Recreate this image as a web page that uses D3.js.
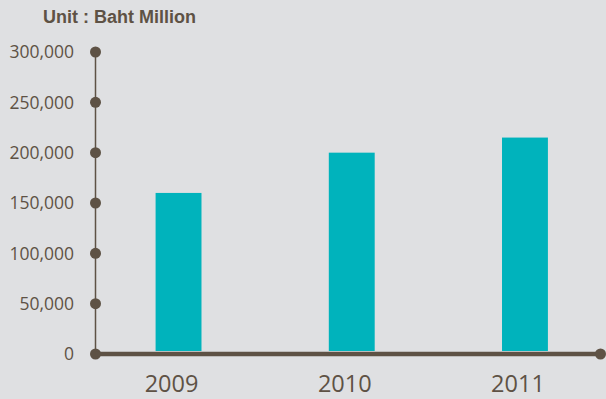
<!DOCTYPE html>
<html>
<head>
<meta charset="utf-8">
<script src="https://cdn.jsdelivr.net/npm/d3@7"></script>
<style>
  html, body { margin: 0; padding: 0; background: #dfe0e2; }
  svg { display: block; }
</style>
</head>
<body>
<div id="chart"></div>
<script>
// data
var years = ["2009", "2010", "2011"];
var revenue = [160000, 200000, 215000];
var yTicks = [0, 50000, 100000, 150000, 200000, 250000, 300000];

var W = 606, H = 399;
var axisColor = "#5e5245";
var barColor = "#00b3bc";

var svg = d3.select("#chart").append("svg")
    .attr("width", W)
    .attr("height", H);

svg.append("rect").attr("width", W).attr("height", H).attr("fill", "#dfe0e2");

var y = d3.scaleLinear()
  .domain([0, 300000])
  .range([354, 52]);

var x = d3.scaleBand()
  .domain(years)
  .range([91.5, 612])
  .paddingInner(0.735)
  .paddingOuter(0.37);

// title
svg.append("text")
  .attr("x", 43).attr("y", 23)
  .attr("fill", axisColor)
  .style("font-family", "'Liberation Sans', Arial, sans-serif")
  .style("font-weight", "bold")
  .style("font-size", "18px")
  .text("Unit : Baht Million");

// bars
svg.selectAll("rect.bar")
  .data(years)
  .enter()
  .append("rect")
    .attr("class", "bar")
    .attr("x", function(d) { return x(d); })
    .attr("y", function(d, i) { return y(revenue[i]); })
    .attr("width", x.bandwidth())
    .attr("height", function(d, i) { return y(0) - 3 - y(revenue[i]); })
    .attr("fill", barColor);

// y axis line + dots
var x0 = 95.5;
svg.append("line")
  .attr("x1", x0).attr("x2", x0)
  .attr("y1", y(300000)).attr("y2", y(0))
  .attr("stroke", axisColor).attr("stroke-width", 1.5);

svg.selectAll("circle.tick")
  .data(yTicks)
  .enter()
  .append("circle")
    .attr("class", "tick")
    .attr("cx", x0)
    .attr("cy", function(d) { return y(d); })
    .attr("r", 5.5)
    .attr("fill", axisColor);

svg.selectAll("text.ytick")
  .data(yTicks)
  .enter()
  .append("text")
    .attr("class", "ytick")
    .attr("x", 74)
    .attr("y", function(d) { return y(d); })
    .attr("dy", "0.36em")
    .attr("text-anchor", "end")
    .attr("fill", axisColor)
    .style("font-family", "'Open Sans', sans-serif")
    .style("font-size", "17.5px")
    .text(function(d) { return d3.format(",")(d); });

// x axis
svg.append("line")
  .attr("x1", x0).attr("x2", 601)
  .attr("y1", y(0)).attr("y2", y(0))
  .attr("stroke", axisColor).attr("stroke-width", 4.5);

svg.append("circle")
  .attr("cx", 600.5).attr("cy", y(0)).attr("r", 5.5)
  .attr("fill", axisColor);

svg.selectAll("text.xtick")
  .data(years)
  .enter()
  .append("text")
    .attr("class", "xtick")
    .attr("x", function(d) { return x(d) + x.bandwidth() / 2 - 7; })
    .attr("y", 392)
    .attr("text-anchor", "middle")
    .attr("fill", axisColor)
    .style("font-family", "'Open Sans', sans-serif")
    .style("font-size", "23.5px")
    .text(function(d) { return d; });
</script>
</body>
</html>
